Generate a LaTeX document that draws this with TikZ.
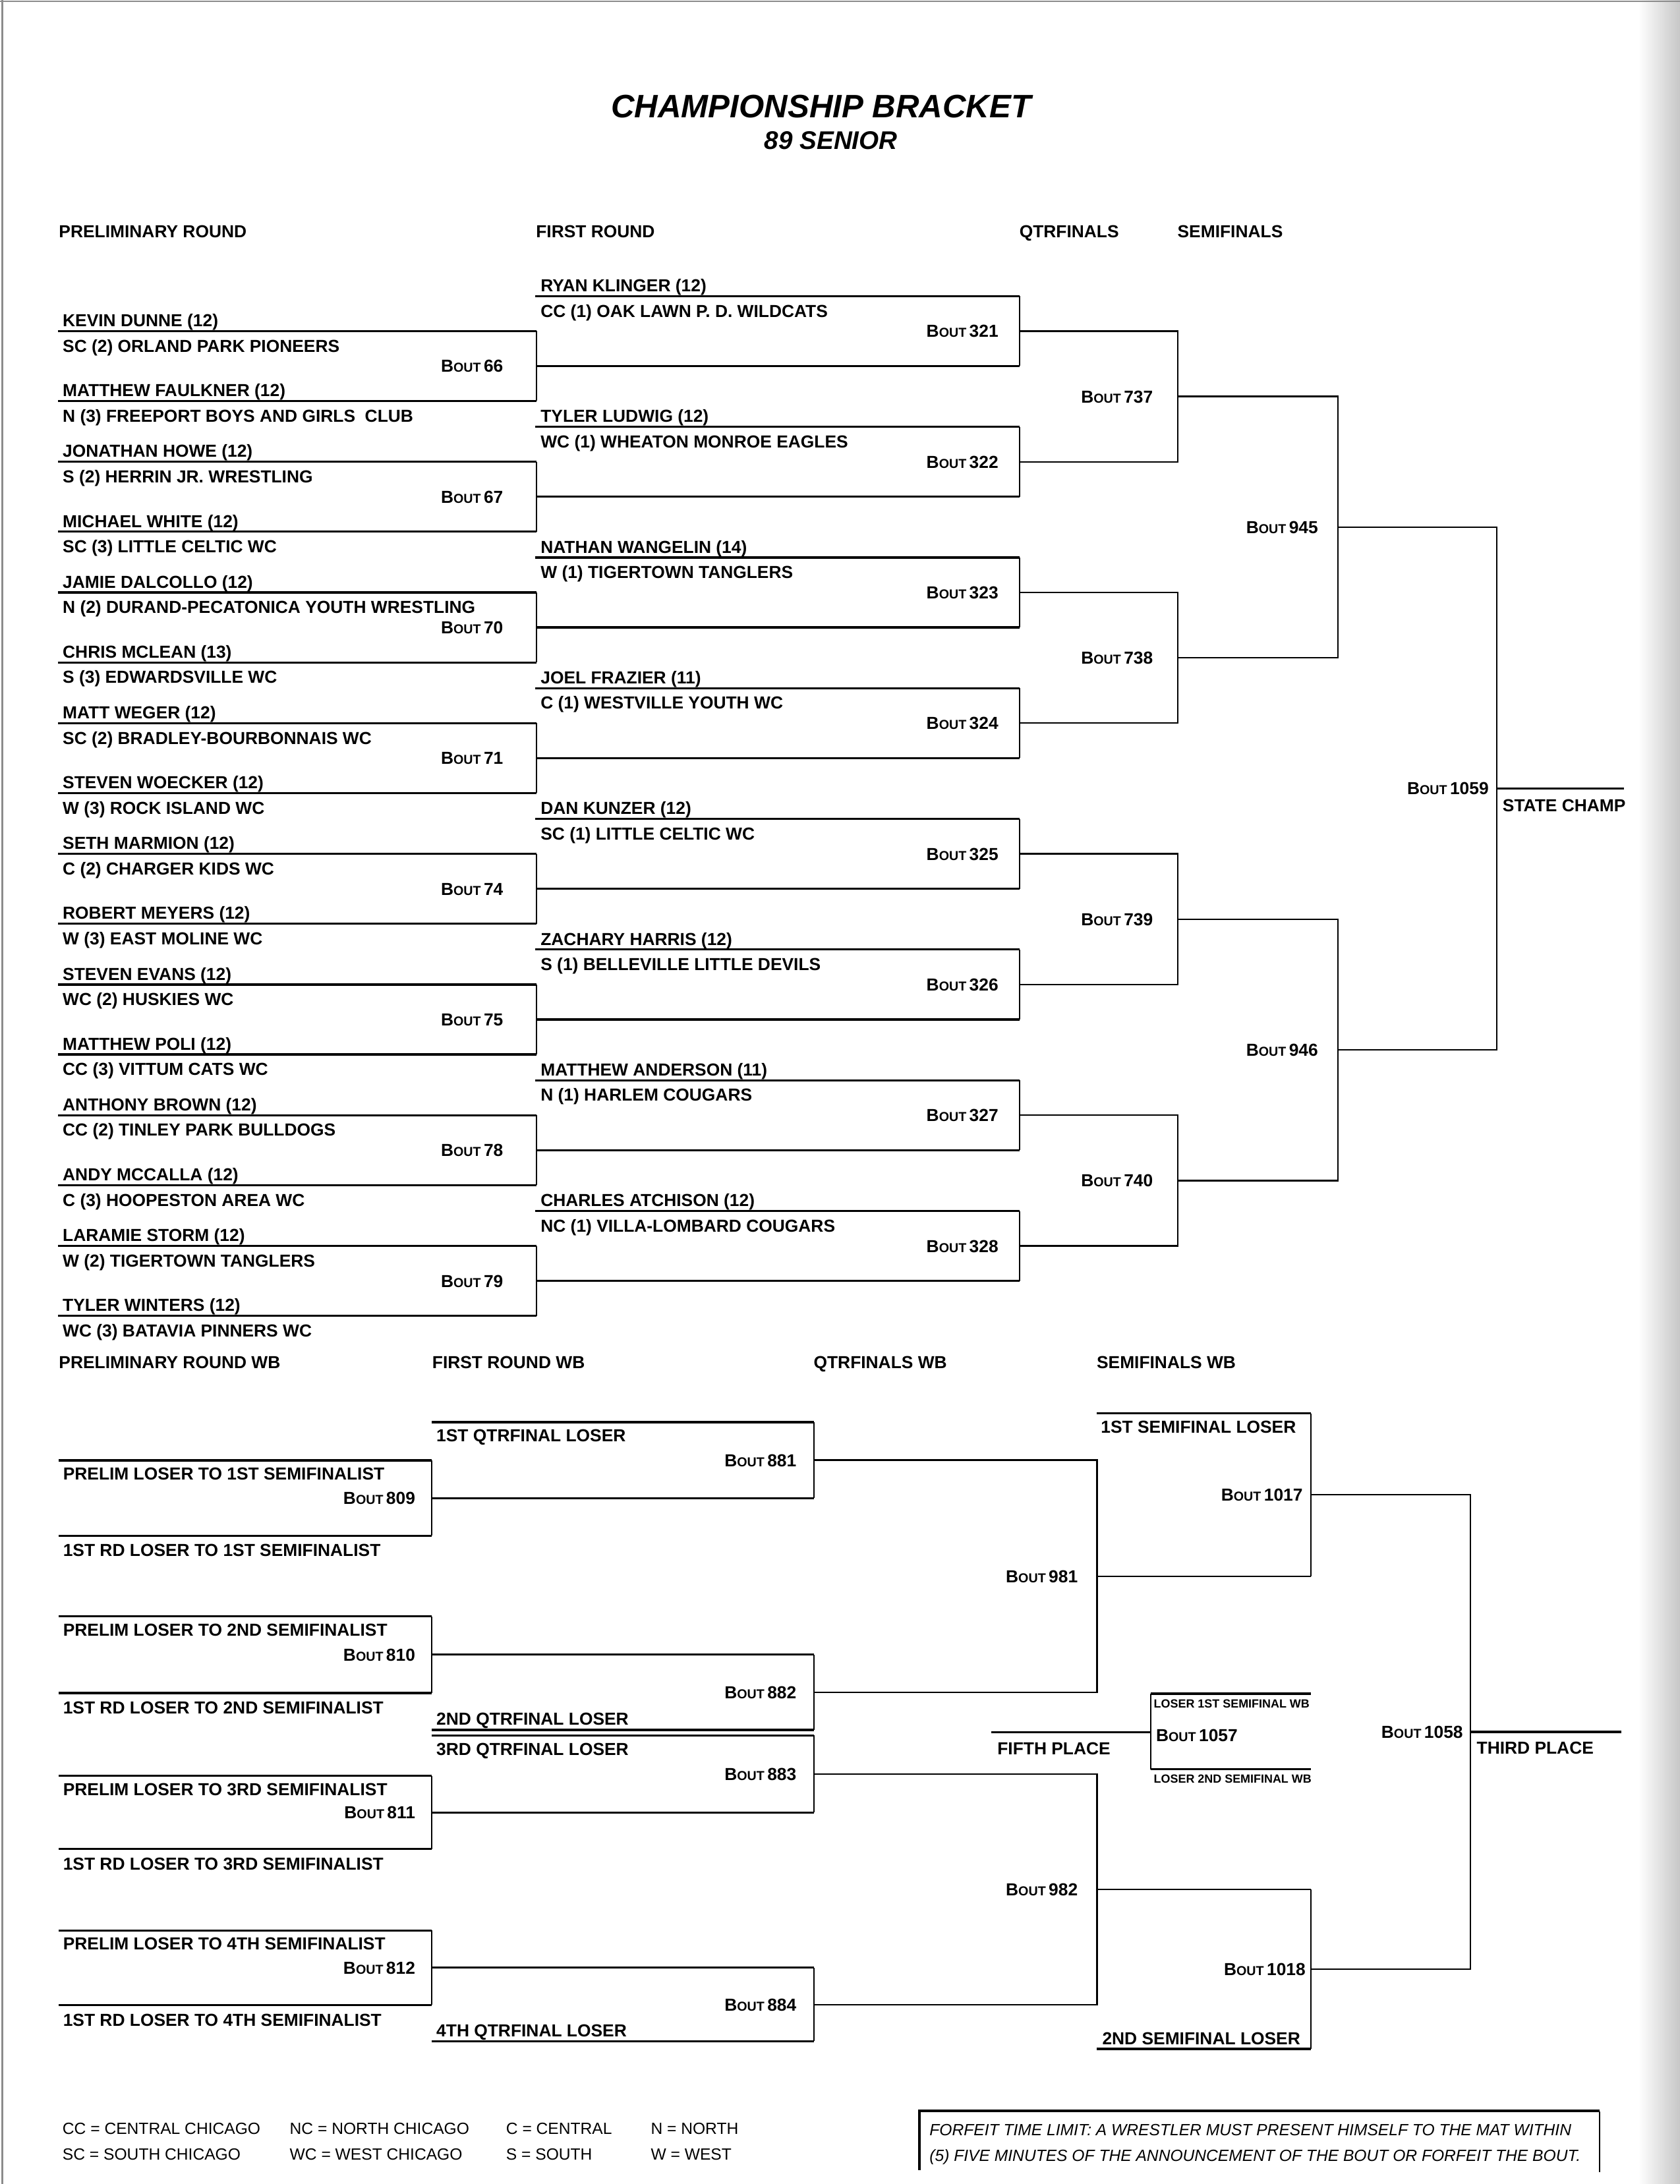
\documentclass[tikz,border=0pt]{standalone}
\usepackage{fontspec}
\setmainfont{Liberation Sans}
\newfontfamily\legendfont{Liberation Sans}
\usetikzlibrary{calc}
% Bout label with small caps look
\newcommand\bout[1]{B{\fontsize{5.6pt}{6pt}\selectfont OUT}\,#1}
\tikzset{
  hline/.style={line width=0.9pt},
  vline/.style={line width=0.6pt},
  bracket/.style={line width=0.65pt},
  wname/.style={anchor=base west, inner sep=0pt, font=\bfseries\fontsize{7.5pt}{8pt}\selectfont},
  boutlbl/.style={anchor=base east, inner sep=0pt, font=\bfseries\fontsize{7.5pt}{8pt}\selectfont},
  colhead/.style={anchor=base west, inner sep=0pt, font=\bfseries\fontsize{7.5pt}{8pt}\selectfont},
  tinylbl/.style={anchor=base west, inner sep=0pt, font=\bfseries\fontsize{5.1pt}{6pt}\selectfont},
  legend/.style={anchor=base west, inner sep=0pt, font=\legendfont\fontsize{7pt}{8pt}\selectfont},
  forfeit/.style={anchor=base west, inner sep=0pt, font=\legendfont\itshape\fontsize{7pt}{8pt}\selectfont},
}
\begin{document}
\begin{tikzpicture}[x=0.21128mm, y=-0.21128mm, line cap=butt, line join=miter]
\useasboundingbox (0,0) rectangle (1206,1568);
% page edges of the scan
\shade[left color=white, right color=black!22] (1176,0) rectangle (1206,1568);
\draw[black!45, line width=0.8pt] (1.5,0) -- (1.5,1568);
\draw[black!45, line width=0.6pt] (0,1) -- (1206,1);

% title
\node[anchor=base, inner sep=0pt, font=\bfseries\itshape\fontsize{14pt}{16pt}\selectfont] (title) at (589.5,84.5) {CHAMPIONSHIP BRACKET};
\node[anchor=base, inner sep=0pt, font=\bfseries\itshape\fontsize{11pt}{13pt}\selectfont] (weight) at (596.5,107.4) {89 SENIOR};

% column headers
\node[colhead] (hprelim) at (42,170.7) {PRELIMINARY ROUND};
\node[colhead] (hfirst) at (384.5,170.7) {FIRST ROUND};
\node[colhead] (hqtr) at (731.5,170.7) {QTRFINALS};
\node[colhead] (hsemi) at (845,170.7) {SEMIFINALS};

% preliminary round
\foreach \i/\na/\ta/\nb/\tb/\bt in {
  0/KEVIN DUNNE (12)/SC (2) ORLAND PARK PIONEERS/MATTHEW FAULKNER (12)/N (3) FREEPORT BOYS AND GIRLS\ \ CLUB/66,
  1/JONATHAN HOWE (12)/S (2) HERRIN JR. WRESTLING/MICHAEL WHITE (12)/SC (3) LITTLE CELTIC WC/67,
  2/JAMIE DALCOLLO (12)/N (2) DURAND-PECATONICA YOUTH WRESTLING/CHRIS MCLEAN (13)/S (3) EDWARDSVILLE WC/70,
  3/MATT WEGER (12)/SC (2) BRADLEY-BOURBONNAIS WC/STEVEN WOECKER (12)/W (3) ROCK ISLAND WC/71,
  4/SETH MARMION (12)/C (2) CHARGER KIDS WC/ROBERT MEYERS (12)/W (3) EAST MOLINE WC/74,
  5/STEVEN EVANS (12)/WC (2) HUSKIES WC/MATTHEW POLI (12)/CC (3) VITTUM CATS WC/75,
  6/ANTHONY BROWN (12)/CC (2) TINLEY PARK BULLDOGS/ANDY MCCALLA (12)/C (3) HOOPESTON AREA WC/78,
  7/LARAMIE STORM (12)/W (2) TIGERTOWN TANGLERS/TYLER WINTERS (12)/WC (3) BATAVIA PINNERS WC/79}{
  \pgfmathsetmacro\yt{237.7+93.83*\i}
  \pgfmathsetmacro\yb{\yt+50.2}
  \coordinate (pa\i) at (41.7,\yt);
  \coordinate (pb\i) at (385,\yt);
  \coordinate (pc\i) at (385,\yb);
  \coordinate (pd\i) at (41.7,\yb);
  \coordinate (pm\i) at ($(pb\i)!0.5!(pc\i)$);
  \draw[hline] (pa\i) -- (pb\i);
  \draw[hline] (pd\i) -- (pc\i);
  \draw[vline] (pb\i) -- (pc\i);
  \node[wname] (pna\i) at ([shift={(3,-3.2)}]pa\i) {\na};
  \node[wname] (pta\i) at ([shift={(3,15)}]pa\i) {\ta};
  \node[wname] (pnb\i) at ([shift={(3,-3.2)}]pd\i) {\nb};
  \node[wname] (ptb\i) at ([shift={(3,15)}]pd\i) {\tb};
  \node[boutlbl] (pbt\i) at ([shift={(-23.5,4.5)}]pm\i) {\bout{\bt}};
}

% first round
\foreach \j/\na/\ta/\bt in {
  0/RYAN KLINGER (12)/CC (1) OAK LAWN P. D. WILDCATS/321,
  1/TYLER LUDWIG (12)/WC (1) WHEATON MONROE EAGLES/322,
  2/NATHAN WANGELIN (14)/W (1) TIGERTOWN TANGLERS/323,
  3/JOEL FRAZIER (11)/C (1) WESTVILLE YOUTH WC/324,
  4/DAN KUNZER (12)/SC (1) LITTLE CELTIC WC/325,
  5/ZACHARY HARRIS (12)/S (1) BELLEVILLE LITTLE DEVILS/326,
  6/MATTHEW ANDERSON (11)/N (1) HARLEM COUGARS/327,
  7/CHARLES ATCHISON (12)/NC (1) VILLA-LOMBARD COUGARS/328}{
  \pgfmathsetmacro\yt{212.6+93.83*\j}
  \coordinate (ra\j) at (384.3,\yt);
  \coordinate (rb\j) at (732,\yt);
  \coordinate (rc\j) at (pm\j -| rb\j);
  \coordinate (rm\j) at ($(rb\j)!0.5!(rc\j)$);
  \draw[hline] (ra\j) -- (rb\j);
  \draw[hline] (pm\j) -- (rc\j);
  \draw[vline] (rb\j) -- (rc\j);
  \node[wname] (rna\j) at ([shift={(3.5,-3.2)}]ra\j) {\na};
  \node[wname] (rta\j) at ([shift={(3.5,15)}]ra\j) {\ta};
  \node[boutlbl] (rbt\j) at ([shift={(-15,4.5)}]rm\j) {\bout{\bt}};
}

% quarterfinals
\coordinate (qx) at (845.4,0);
\foreach \k/\bt in {0/737,1/738,2/739,3/740}{
  \pgfmathtruncatemacro\ja{2*\k}
  \pgfmathtruncatemacro\jb{2*\k+1}
  \coordinate (qa\k) at (rm\ja -| qx);
  \coordinate (qb\k) at (rm\jb -| qx);
  \coordinate (qm\k) at ($(qa\k)!0.5!(qb\k)$);
  \draw[bracket] (rm\ja) -- (qa\k) -- (qb\k) -- (rm\jb);
  \node[boutlbl] (qbt\k) at ([shift={(-17.4,4.5)}]qm\k) {\bout{\bt}};
}

% semifinals
\coordinate (sx) at (960.5,0);
\foreach \s/\bt in {0/945,1/946}{
  \pgfmathtruncatemacro\ka{2*\s}
  \pgfmathtruncatemacro\kb{2*\s+1}
  \coordinate (sa\s) at (qm\ka -| sx);
  \coordinate (sb\s) at (qm\kb -| sx);
  \coordinate (sm\s) at ($(sa\s)!0.5!(sb\s)$);
  \draw[bracket] (qm\ka) -- (sa\s) -- (sb\s) -- (qm\kb);
  \node[boutlbl] (sbt\s) at ([shift={(-14,4.5)}]sm\s) {\bout{\bt}};
}

% final
\coordinate (fx) at (1074.4,0);
\coordinate (fa) at (sm0 -| fx);
\coordinate (fb) at (sm1 -| fx);
\coordinate (fm) at ($(fa)!0.5!(fb)$);
\coordinate (champ) at (1166,0);
\draw[bracket] (sm0) -- (fa) -- (fb) -- (sm1);
\draw[hline] (fm) -- (fm -| champ);
\node[boutlbl] (fbt) at ([shift={(-5.4,4.5)}]fm) {\bout{1059}};
\node[wname] (champlbl) at ([shift={(4,16.5)}]fm) {STATE CHAMP};

% wrestleback headers
\node[colhead] (hwprelim) at (42,982.5) {PRELIMINARY ROUND WB};
\node[colhead] (hwfirst) at (310,982.5) {FIRST ROUND WB};
\node[colhead] (hwqtr) at (583.8,982.5) {QTRFINALS WB};
\node[colhead] (hwsemi) at (787,982.5) {SEMIFINALS WB};

% wrestleback preliminary round
\foreach \k/\yt/\yb/\ord/\bt in {0/1048.5/1102.5/1ST/809, 1/1160.5/1215.5/2ND/810, 2/1275/1327.5/3RD/811, 3/1386/1439.5/4TH/812}{
  \coordinate (wa\k) at (42,\yt);
  \coordinate (wb\k) at (310,\yt);
  \coordinate (wc\k) at (310,\yb);
  \coordinate (wd\k) at (42,\yb);
  \coordinate (wm\k) at ($(wb\k)!0.5!(wc\k)$);
  \draw[hline] (wa\k) -- (wb\k);
  \draw[hline] (wd\k) -- (wc\k);
  \draw[vline] (wb\k) -- (wc\k);
  \node[wname] (wpl\k) at ([shift={(3,14)}]wa\k) {PRELIM LOSER TO \ord\ SEMIFINALIST};
  \node[wname] (wrd\k) at ([shift={(3,15)}]wd\k) {1ST RD LOSER TO \ord\ SEMIFINALIST};
  \node[boutlbl] (wbt\k) at ([shift={(-11.6,4.5)}]wm\k) {\bout{\bt}};
}

% wrestleback first round
\coordinate (wq) at (584.5,0);
\coordinate (t881) at (310,1021);
\coordinate (t883) at (310,1246);
\coordinate (b882) at (310,1242);
\coordinate (b884) at (310,1465.5);
\draw[hline] (t881) -- (t881 -| wq);
\draw[hline] (wm0) -- (wm0 -| wq);
\draw[vline] (t881 -| wq) -- (wm0 -| wq);
\draw[hline] (wm1) -- (wm1 -| wq);
\draw[hline] (b882) -- (b882 -| wq);
\draw[vline] (wm1 -| wq) -- (b882 -| wq);
\draw[hline] (t883) -- (t883 -| wq);
\draw[hline] (wm2) -- (wm2 -| wq);
\draw[vline] (t883 -| wq) -- (wm2 -| wq);
\draw[hline] (wm3) -- (wm3 -| wq);
\draw[hline] (b884) -- (b884 -| wq);
\draw[vline] (wm3 -| wq) -- (b884 -| wq);
\coordinate (m881) at ($(t881 -| wq)!0.5!(wm0 -| wq)$);
\coordinate (m882) at ($(wm1 -| wq)!0.5!(b882 -| wq)$);
\coordinate (m883) at ($(t883 -| wq)!0.5!(wm2 -| wq)$);
\coordinate (m884) at ($(wm3 -| wq)!0.5!(b884 -| wq)$);
\node[wname] (q1lose) at ([shift={(3,14)}]t881) {1ST QTRFINAL LOSER};
\node[wname] (q2lose) at ([shift={(3,-3.4)}]b882) {2ND QTRFINAL LOSER};
\node[wname] (q3lose) at ([shift={(3,14)}]t883) {3RD QTRFINAL LOSER};
\node[wname] (q4lose) at ([shift={(3,-3.2)}]b884) {4TH QTRFINAL LOSER};
\node[boutlbl] (b881) at ([shift={(-12.5,4.5)}]m881) {\bout{881}};
\node[boutlbl] (b882l) at ([shift={(-12.5,4.5)}]m882) {\bout{882}};
\node[boutlbl] (b883) at ([shift={(-12.5,4.5)}]m883) {\bout{883}};
\node[boutlbl] (b884l) at ([shift={(-12.5,4.5)}]m884) {\bout{884}};

% wrestleback quarterfinals
\coordinate (ws) at (787.5,0);
\draw[bracket] (m881) -- (m881 -| ws) -- (m882 -| ws) -- (m882);
\draw[bracket] (m883) -- (m883 -| ws) -- (m884 -| ws) -- (m884);
\coordinate (m981) at ($(m881 -| ws)!0.5!(m882 -| ws)$);
\coordinate (m982) at ($(m883 -| ws)!0.5!(m884 -| ws)$);
\node[boutlbl] (b981) at ([shift={(-13.5,4.5)}]m981) {\bout{981}};
\node[boutlbl] (b982) at ([shift={(-13.5,4.5)}]m982) {\bout{982}};

% wrestleback semifinals
\coordinate (wt) at (941,0);
\coordinate (t1017) at (787.5,1014.7);
\coordinate (b1018) at (787.5,1471);
\draw[hline] (t1017) -- (t1017 -| wt);
\draw[vline] (t1017 -| wt) -- (m981 -| wt);
\draw[bracket] (m981) -- (m981 -| wt);
\draw[bracket] (m982) -- (m982 -| wt);
\draw[vline] (m982 -| wt) -- (b1018 -| wt);
\draw[hline] (b1018) -- (b1018 -| wt);
\coordinate (m1017) at ($(t1017 -| wt)!0.5!(m981 -| wt)$);
\coordinate (m1018) at ($(m982 -| wt)!0.5!(b1018 -| wt)$);
\node[wname] (s1lose) at ([shift={(2.5,14)}]t1017) {1ST SEMIFINAL LOSER};
\node[wname] (s2lose) at ([shift={(3.5,-3.2)}]b1018) {2ND SEMIFINAL LOSER};
\node[boutlbl] (b1017) at ([shift={(-5.5,4.5)}]m1017) {\bout{1017}};
\node[boutlbl] (b1018l) at ([shift={(-3.5,4.5)}]m1018) {\bout{1018}};

% third place
\coordinate (wf) at (1055.5,0);
\coordinate (third) at (1164,0);
\draw[bracket] (m1017) -- (m1017 -| wf) -- (m1018 -| wf) -- (m1018);
\coordinate (m1058) at ($(m1017 -| wf)!0.5!(m1018 -| wf)$);
\draw[hline] (m1058) -- (m1058 -| third);
\node[boutlbl] (b1058) at ([shift={(-5,4.5)}]m1058) {\bout{1058}};
\node[wname] (thirdlbl) at ([shift={(4.3,16)}]m1058) {THIRD PLACE};

% fifth place
\coordinate (f57a) at (826,1216);
\coordinate (f57b) at (826,1270.3);
\coordinate (fifth) at (711.7,1243.5);
\draw[hline] (f57a) -- (f57a -| wt);
\draw[hline] (f57b) -- (f57b -| wt);
\draw[vline] (f57a) -- (f57b);
\draw[hline] (fifth) -- (fifth -| f57a);
\node[tinylbl] (l1wb) at ([shift={(2,10.2)}]f57a) {LOSER 1ST SEMIFINAL WB};
\node[tinylbl] (l2wb) at ([shift={(2,10)}]f57b) {LOSER 2ND SEMIFINAL WB};
\node[anchor=base west, inner sep=0pt, font=\bfseries\fontsize{7.5pt}{8pt}\selectfont] (b1057) at ([shift={(3.6,6.9)}]fifth -| f57a) {\bout{1057}};
\node[wname] (fifthlbl) at ([shift={(4,16)}]fifth) {FIFTH PLACE};

% legend
\node[legend] (lcc) at (44.6,1532.3) {CC = CENTRAL CHICAGO};
\node[legend] (lnc) at (207.7,1532.3) {NC = NORTH CHICAGO};
\node[legend] (lc) at (363,1532.3) {C = CENTRAL};
\node[legend] (ln) at (466.9,1532.3) {N = NORTH};
\node[legend] (lsc) at (44.6,1550.9) {SC = SOUTH CHICAGO};
\node[legend] (lwc) at (207.7,1550.9) {WC = WEST CHICAGO};
\node[legend] (ls) at (363,1550.9) {S = SOUTH};
\node[legend] (lw) at (466.9,1550.9) {W = WEST};

% forfeit box
\draw[line width=1.2pt] (660,1558) -- (660,1515.4) -- (1148.3,1515.4);
\draw[vline] (1148.3,1516) -- (1148.3,1559.6);
\node[forfeit] (ff1) at (667,1533) {FORFEIT TIME LIMIT: A WRESTLER MUST PRESENT HIMSELF TO THE MAT WITHIN};
\node[forfeit] (ff2) at (667,1551.6) {(5) FIVE MINUTES OF THE ANNOUNCEMENT OF THE BOUT OR FORFEIT THE BOUT.};
\end{tikzpicture}
\end{document}
